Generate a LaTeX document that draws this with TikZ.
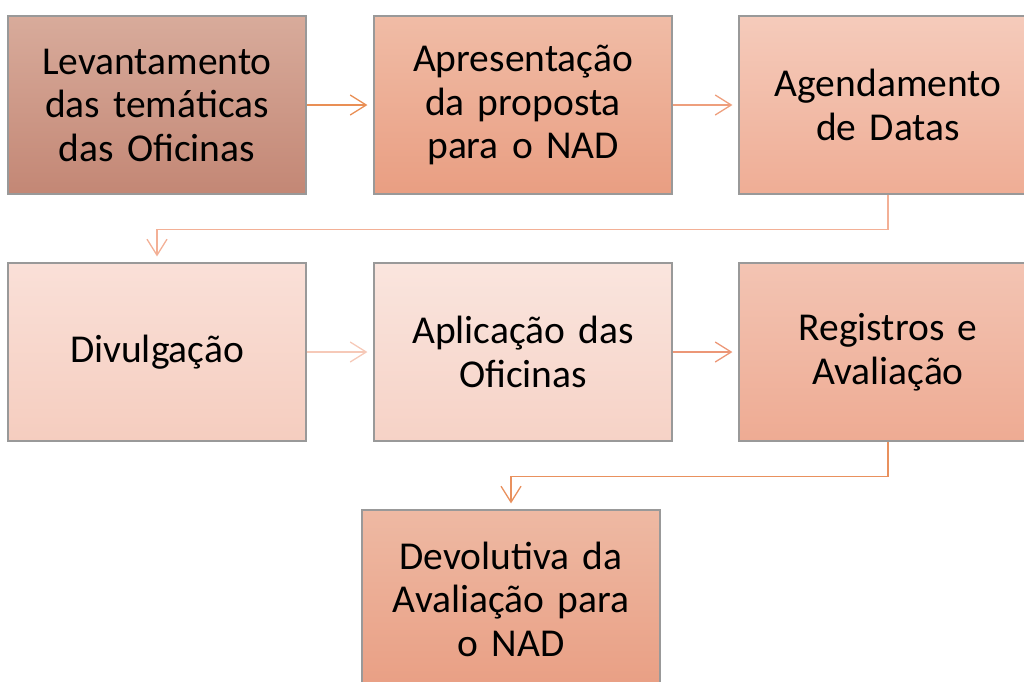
\documentclass[tikz,border=0pt]{standalone}
\usepackage{fontspec}
\setmainfont[WordSpace=0.8]{Carlito}
\usetikzlibrary{arrows.meta,shadows}
\definecolor{b1t}{HTML}{D8AB9B}\definecolor{b1b}{HTML}{C38775}
\definecolor{b2t}{HTML}{F0BCA6}\definecolor{b2b}{HTML}{E99E82}
\definecolor{b3t}{HTML}{F5CBBB}\definecolor{b3b}{HTML}{EFAD95}
\definecolor{b4t}{HTML}{FAE0D8}\definecolor{b4b}{HTML}{F5CDBF}
\definecolor{b5t}{HTML}{FAE5DE}\definecolor{b5b}{HTML}{F6D2C6}
\definecolor{b6t}{HTML}{F3C4B3}\definecolor{b6b}{HTML}{EEAB93}
\definecolor{b7t}{HTML}{EEB9A3}\definecolor{b7b}{HTML}{E99F84}
\definecolor{a1}{HTML}{E98F55}\definecolor{a2}{HTML}{EE9F7D}
\definecolor{a3}{HTML}{F3B096}\definecolor{a4}{HTML}{F6C9B8}
\definecolor{a5}{HTML}{EC9777}\definecolor{a6}{HTML}{E9915E}
\begin{document}
\begin{tikzpicture}[x=1pt,y=-1pt,
  stepbox/.style={draw=black!40, line width=1.2pt, rectangle,
    minimum width=298pt, minimum height=178pt, inner sep=0pt,
    text width=290pt, align=center, font=\fontsize{39.5}{43.5}\selectfont,
    drop shadow={opacity=0.25, shadow xshift=1pt, shadow yshift=-1pt}},
  link/.style={line width=1.3pt, -{Straight Barb[length=16pt,width=20pt,line width=1.3pt]}, shorten >=6pt}]
\useasboundingbox (0,0) rectangle (1024,681);
\clip (0,0) rectangle (1024,681);
\node[stepbox, top color=b1t, bottom color=b1b] (b1) at (157,105) {Levantamento\\das temáticas\\das Oficinas};
\node[stepbox, top color=b2t, bottom color=b2b] (b2) at (523,105) {Apresentação\\da proposta\\para o NAD};
\node[stepbox, top color=b3t, bottom color=b3b] (b3) at (888,105) {Agendamento\\de Datas};
\node[stepbox, top color=b4t, bottom color=b4b] (b4) at (157,352) {Divulgação};
\node[stepbox, top color=b5t, bottom color=b5b] (b5) at (523,352) {Aplicação das\\Oficinas};
\node[stepbox, top color=b6t, bottom color=b6b] (b6) at (888,352) {Registros e\\Avaliação};
\node[stepbox, top color=b7t, bottom color=b7b] (b7) at (511,599) {Devolutiva da\\Avaliação para\\o NAD};
\draw[link, draw=a1] (b1) -- (b2);
\draw[link, draw=a2] (b2) -- (b3);
\draw[link, draw=a3] (b3.south) -- ++(0,35) -| (b4.north);
\draw[link, draw=a4] (b4) -- (b5);
\draw[link, draw=a5] (b5) -- (b6);
\draw[link, draw=a6] (b6.south) -- ++(0,35) -| (b7.north);
\end{tikzpicture}
\end{document}
